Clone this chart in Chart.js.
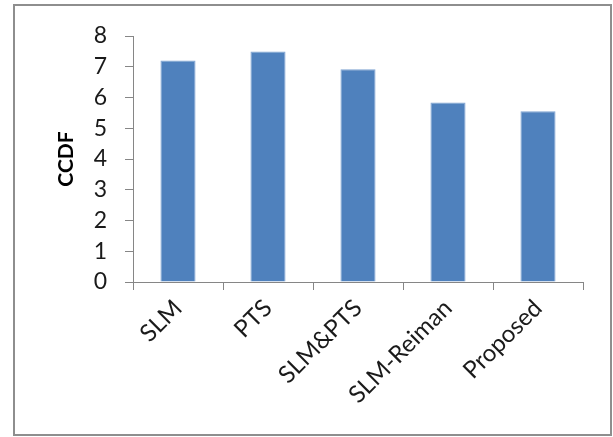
<!DOCTYPE html>
<html>
<head>
<meta charset="utf-8">
<script src="https://cdn.jsdelivr.net/npm/chart.js@4/dist/chart.umd.min.js"></script>
<style>
  html, body { margin: 0; padding: 0; background: #fff; }
  #wrap { position: relative; width: 613px; height: 437px; }
  #frame { position: absolute; left: 13px; top: 4px; width: 599px; height: 432px;
           border: 2px solid #8e8e8e; box-sizing: border-box; }
  canvas { position: absolute; left: 0; top: 0; }
</style>
</head>
<body>
<div id="wrap">
  <div id="frame"></div>
  <canvas id="c" width="613" height="437"></canvas>
</div>
<script>
const categories = ['SLM', 'PTS', 'SLM&PTS', 'SLM-Reiman', 'Proposed'];
const ccdfValues = [7.2, 7.5, 6.92, 5.84, 5.55];
const yTicks = [0, 1, 2, 3, 4, 5, 6, 7, 8];

const FONT = 'Lato, "Open Sans", sans-serif';
const AXIS_GREY = '#868686';

new Chart(document.getElementById('c'), {
  type: 'bar',
  data: {
    labels: categories,
    datasets: [{
      data: ccdfValues,
      backgroundColor: '#4F81BD',
      borderColor: '#7fa3d2',
      borderWidth: 1,
      borderSkipped: 'bottom',
      categoryPercentage: 1,
      barPercentage: 0.39
    }]
  },
  options: {
    responsive: false,
    animation: false,
    layout: { padding: { left: 50, right: 30, top: 36, bottom: 0 } },
    plugins: { legend: { display: false }, tooltip: { enabled: false } },
    scales: {
      y: {
        min: 0,
        max: 8,
        afterBuildTicks: s => { s.ticks = yTicks.map(v => ({ value: v })); },
        afterFit: s => { s.width = 83; },
        grid: { drawOnChartArea: false, drawTicks: true, tickLength: 8, color: AXIS_GREY },
        border: { display: true, color: AXIS_GREY, width: 1 },
        ticks: { font: { family: FONT, size: 23 }, color: '#1a1a1a', padding: 18 },
        title: {
          display: true,
          text: 'CCDF',
          font: { family: FONT, size: 21, weight: 'bold' },
          color: '#000',
          padding: { top: 4, bottom: 0 }
        }
      },
      x: {
        afterFit: s => { s.height = 155; },
        grid: { drawOnChartArea: false, drawTicks: true, tickLength: 8, color: AXIS_GREY, offset: true },
        border: { display: true, color: AXIS_GREY, width: 1 },
        ticks: {
          font: { family: FONT, size: 24 },
          color: '#1a1a1a',
          autoSkip: false,
          minRotation: 45,
          maxRotation: 45,
          padding: 4
        }
      }
    }
  }
});
</script>
</body>
</html>
